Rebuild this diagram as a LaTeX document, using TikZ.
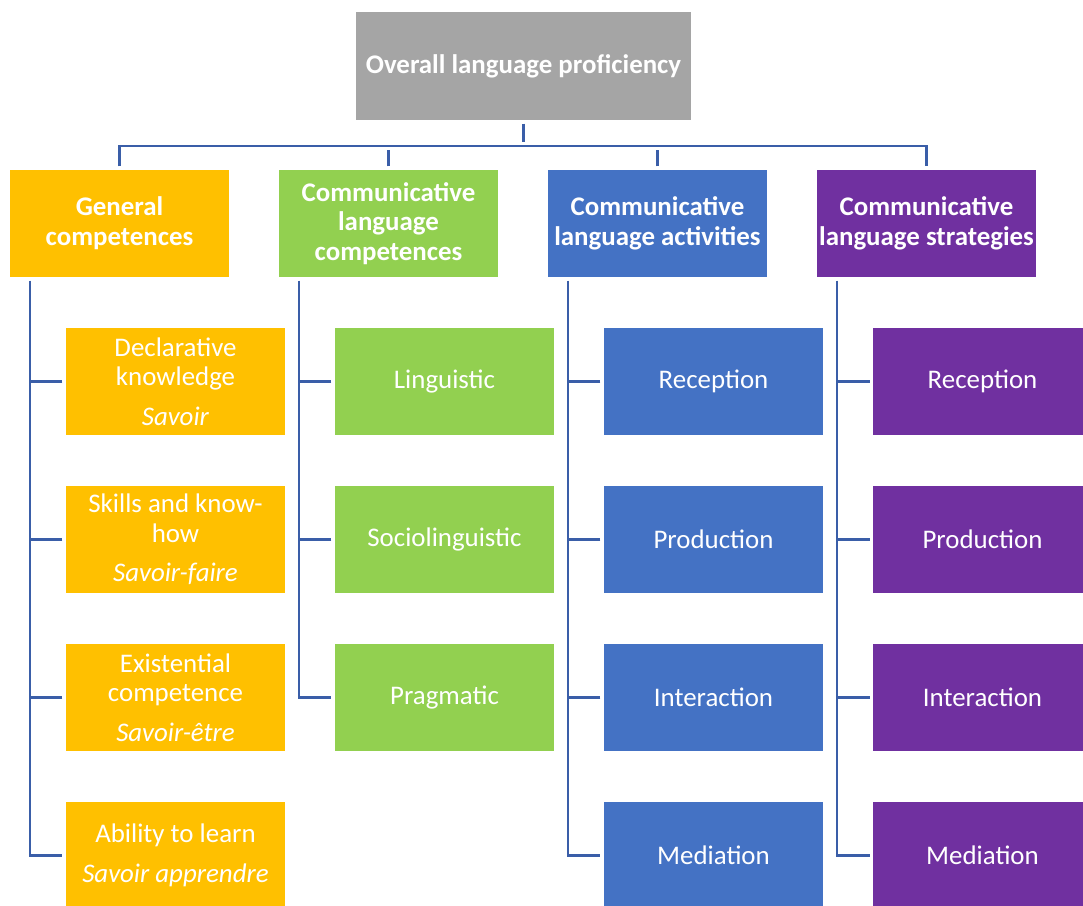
\documentclass[tikz,border=0pt]{standalone}
\usepackage{fontspec}
\setmainfont{Carlito}
\usepackage{tikz}
\usetikzlibrary{positioning}
\definecolor{cefrgray}{HTML}{A5A5A5}
\definecolor{cefrorange}{HTML}{FFC000}
\definecolor{cefrgreen}{HTML}{92D050}
\definecolor{cefrblue}{HTML}{4472C4}
\definecolor{cefrpurple}{HTML}{7030A0}
\definecolor{linkblue}{HTML}{3A5EA8}
\tikzstyle{box} = [rectangle, text=white, text centered, align=center,
    minimum width=4.38cm, minimum height=2.14cm, inner sep=0pt, outer sep=0pt,
    font=\fontsize{15.3}{16.9}\selectfont]
\tikzstyle{head} = [box, font=\fontsize{15.3}{16.9}\selectfont\bfseries]
\tikzstyle{leaf} = [box]
\tikzstyle{link} = [draw=linkblue, line width=1.6pt]
\tikzstyle{gap} = [shorten <=2pt, shorten >=2pt]

\begin{document}
\begin{tikzpicture}
    \clip (0,0) rectangle (21.66,-18.1);
    % Place nodes
    \node [head, fill=cefrgray, minimum width=6.7cm, minimum height=2.16cm] (overall) at (10.47,-1.32) {Overall language proficiency};
    \node [head, fill=cefrorange, anchor=north west] (general) at (0.2,-3.4) {General\\competences};
    \node [head, fill=cefrgreen, right=1cm of general] (competences) {Communicative\\language\\competences};
    \node [head, fill=cefrblue, right=1cm of competences] (activities) {Communicative\\language activities};
    \node [head, fill=cefrpurple, right=1cm of activities] (strategies) {Communicative\\language strategies};

    \node [leaf, fill=cefrorange, below right=1.02cm and 1.12cm of general.south west] (savoir) {Declarative\\knowledge\\[0.2cm]\textit{Savoir}};
    \node [leaf, fill=cefrorange, below=1.02cm of savoir] (faire) {Skills and know-\\how\\[0.2cm]\textit{Savoir-faire}};
    \node [leaf, fill=cefrorange, below=1.02cm of faire] (etre) {Existential\\competence\\[0.2cm]\textit{Savoir-être}};
    \node [leaf, fill=cefrorange, below=1.02cm of etre] (apprendre) {Ability to learn\\[0.2cm]\textit{Savoir apprendre}};

    \node [leaf, fill=cefrgreen, below right=1.02cm and 1.12cm of competences.south west] (linguistic) {Linguistic};
    \node [leaf, fill=cefrgreen, below=1.02cm of linguistic] (socio) {Sociolinguistic};
    \node [leaf, fill=cefrgreen, below=1.02cm of socio] (pragmatic) {Pragmatic};

    \node [leaf, fill=cefrblue, below right=1.02cm and 1.12cm of activities.south west] (actrec) {Reception};
    \node [leaf, fill=cefrblue, below=1.02cm of actrec] (actprod) {Production};
    \node [leaf, fill=cefrblue, below=1.02cm of actprod] (actint) {Interaction};
    \node [leaf, fill=cefrblue, below=1.02cm of actint] (actmed) {Mediation};

    \node [leaf, fill=cefrpurple, below right=1.02cm and 1.12cm of strategies.south west] (strrec) {Reception};
    \node [leaf, fill=cefrpurple, below=1.02cm of strrec] (strprod) {Production};
    \node [leaf, fill=cefrpurple, below=1.02cm of strprod] (strint) {Interaction};
    \node [leaf, fill=cefrpurple, below=1.02cm of strint] (strmed) {Mediation};

    % Draw edges
    \coordinate [below=0.52cm of overall] (bus);
    \draw [link, gap] (overall) -- (bus);
    \draw [link, gap] (general.north) |- (bus) -| (strategies.north);
    \draw [link, gap] (competences.north) -- (competences.north |- bus);
    \draw [link, gap] (activities.north) -- (activities.north |- bus);
    \foreach \head/\last in {general/apprendre, competences/pragmatic, activities/actmed, strategies/strmed}
        \draw [link, gap] ([xshift=0.4cm]\head.south west) |- (\last.west);
    \foreach \leaf in {savoir, faire, etre, linguistic, socio, actrec, actprod, actint, strrec, strprod, strint}
        \draw [link, shorten <=2pt] (\leaf.west) -- ++(-0.72cm,0);
\end{tikzpicture}
\end{document}
